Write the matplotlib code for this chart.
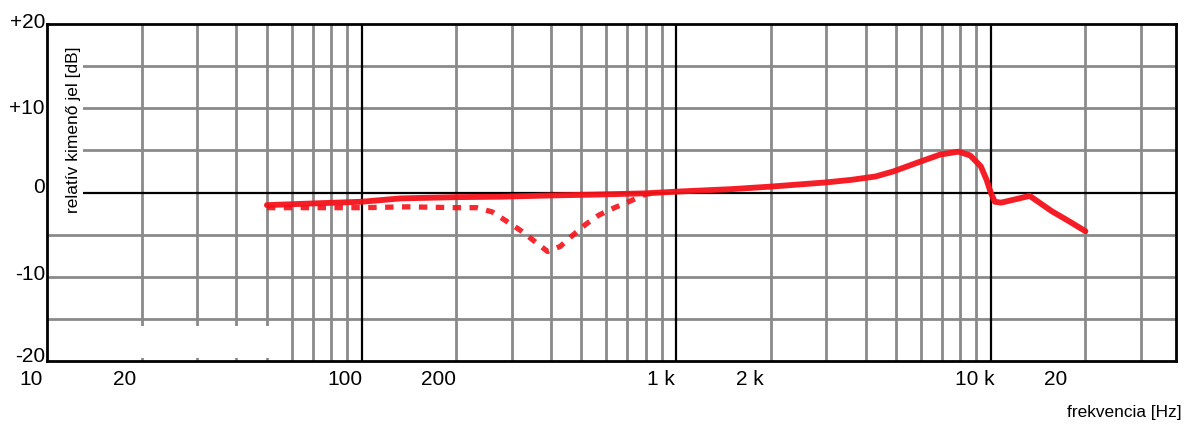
import matplotlib.pyplot as plt
import numpy as np
from matplotlib.patches import Rectangle

# frekvenciamenet (Hz, dB)
freq_solid = [50, 70, 100, 133, 200, 275, 400, 550, 800, 1000, 1500, 2000,
              3000, 3600, 4300, 4900, 5800, 6900, 7900, 8600, 9300, 9700,
              10000, 10300, 10800, 12000, 13300, 15600, 17900, 20000]
db_solid = [-1.5, -1.3, -1.1, -0.7, -0.55, -0.5, -0.35, -0.25, -0.1, 0.1, 0.4,
            0.7, 1.2, 1.5, 1.9, 2.5, 3.5, 4.5, 4.85, 4.4, 3.1, 1.5,
            0.0, -1.1, -1.2, -0.8, -0.4, -2.2, -3.5, -4.6]

freq_dash = [50, 70, 100, 140, 200, 232, 260, 286, 320, 352, 390, 428, 468,
             515, 567, 637, 706, 800, 870]
db_dash = [-1.8, -1.8, -1.8, -1.7, -1.8, -1.8, -2.3, -3.3, -4.5, -5.7, -7.0,
           -6.4, -5.1, -3.8, -2.7, -1.8, -1.1, -0.2, 0.0]

x_ticks = [10, 20, 100, 200, 1000, 2000, 10000, 20000]
x_labels = ["10", "20", "100", "200", "1 k", "2 k", "10 k", "20"]
x_shift = [-4, -5, 1, 0, -1, -7, 4, -18]  # px, a felirat jobb széle

y_ticks = [20, 10, 0, -10, -20]
y_labels = ["+20", "+10", "0", "-10", "-20"]
y_shift = [2, 0, 5, 2, 4]

RED = "#f5121a"
GRAY = "#8a8a8a"

fig = plt.figure(figsize=(11.96, 4.37), dpi=100)
ax = fig.add_axes([47 / 1196, 76 / 437, 1129 / 1196, 337 / 437])
ax.set_xscale("log")
ax.set_xlim(10, 38800)
ax.set_ylim(-20, 20)
ax.set_xticks([])
ax.set_yticks([])
ax.minorticks_off()

# rács
for dec in [10, 100, 1000, 10000]:
    for m in range(2, 10):
        if dec * m < 38800:
            ax.axvline(dec * m, color=GRAY, lw=2.0, zorder=1)
for f in [100, 1000, 10000]:
    ax.axvline(f, color="black", lw=1.6, zorder=2)
for v in [-15, -10, -5, 5, 10, 15]:
    ax.axhline(v, color=GRAY, lw=2.0, zorder=1)
ax.axhline(0, color="black", lw=1.6, zorder=2)

# kitörölt részek (fehér foltok)
ax.add_patch(Rectangle((19.5, -19.6), 52 - 19.5, 3.8, facecolor="white",
                       edgecolor="none", zorder=3))
ax.add_patch(Rectangle((0, 0.433), 0.032, 0.567, transform=ax.transAxes,
                       facecolor="white", edgecolor="none", zorder=3))

ax.plot(freq_dash, db_dash, color=RED, lw=3.8, dashes=(1.6, 1.6),
        dash_capstyle="butt", zorder=4, alpha=0.9)
ax.plot(freq_solid, db_solid, color=RED, lw=4.2, zorder=5, alpha=0.95,
        solid_capstyle="round", solid_joinstyle="round")

for sp in ax.spines.values():
    sp.set_linewidth(2.0)
    sp.set_zorder(6)

for f, lab, dx in zip(x_ticks, x_labels, x_shift):
    ax.annotate(lab, xy=(f, 0), xycoords=("data", "axes fraction"),
                xytext=(dx, -9), textcoords="offset pixels",
                ha="right", va="top", fontsize=15, family="Liberation Sans")
for v, lab, dy in zip(y_ticks, y_labels, y_shift):
    ax.annotate(lab, xy=(0, v), xycoords=("axes fraction", "data"),
                xytext=(-2, dy), textcoords="offset pixels",
                ha="right", va="center", fontsize=15, family="Liberation Sans")

ax.text(0.0235, 0.685, "relatív kimenő jel [dB]", transform=ax.transAxes,
        rotation=90, ha="center", va="center", fontsize=12.5,
        family="Liberation Sans", zorder=7)
fig.text(1182 / 1196, 1 - 413 / 437, "frekvencia [Hz]", ha="right",
         va="center", fontsize=12.4, family="Liberation Sans")

fig.savefig("out.png", dpi=100)
